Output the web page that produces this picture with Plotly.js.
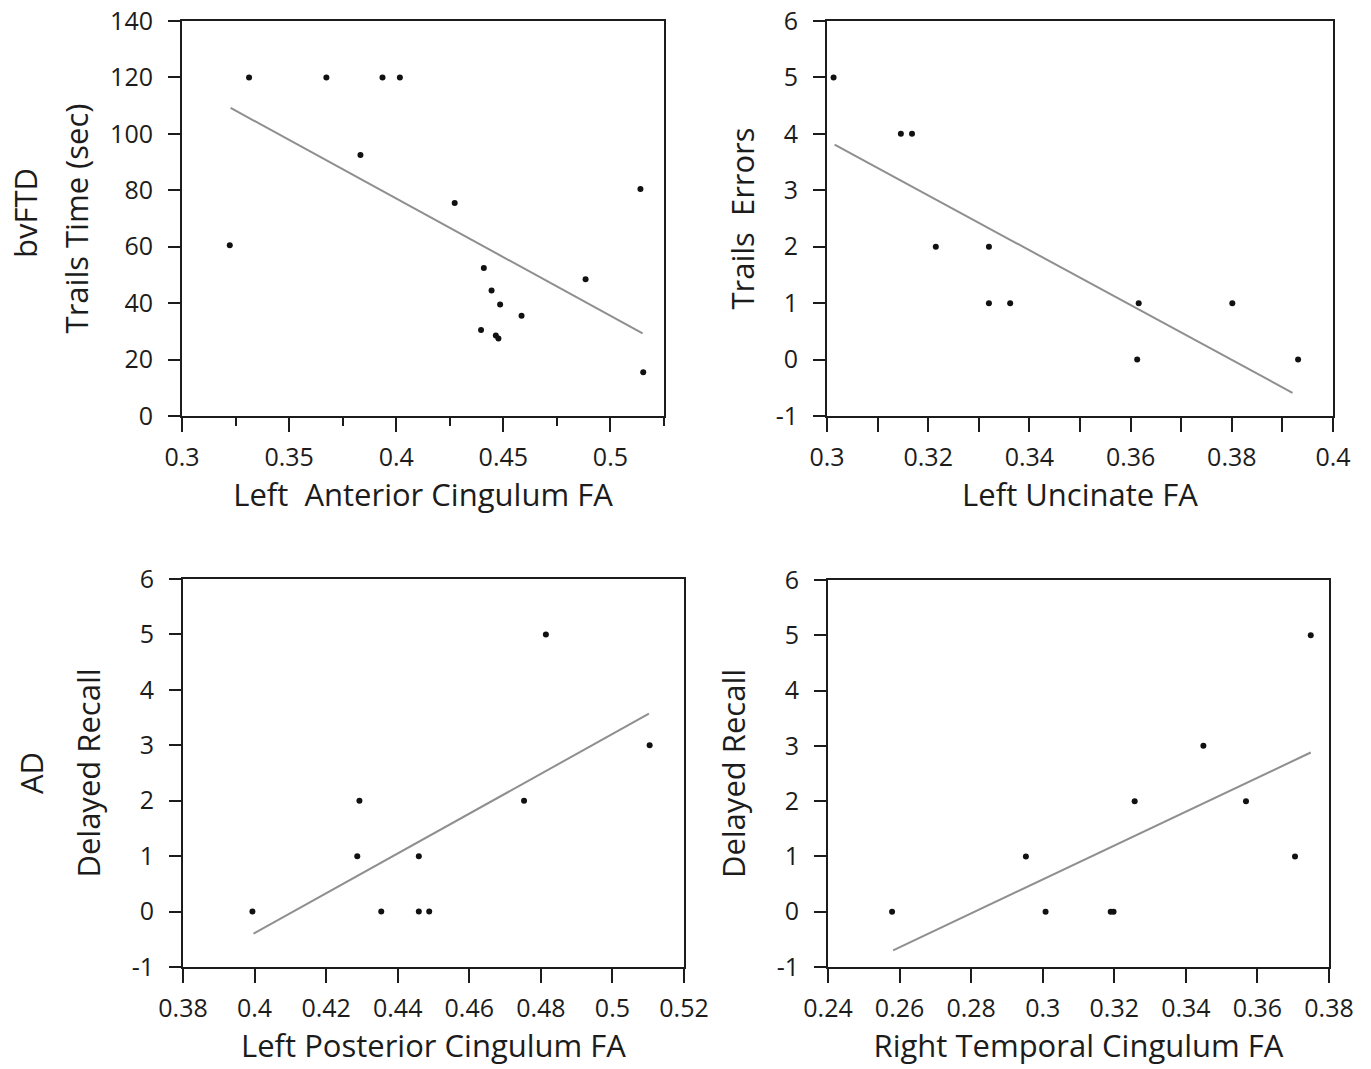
<!DOCTYPE html>
<html>
<head>
<meta charset="utf-8">
<script src="https://cdn.plot.ly/plotly-3.0.1.min.js"></script>
<style>
  html, body { margin: 0; padding: 0; background: #fff; }
  #chart { width: 1371px; height: 1069px; }
</style>
</head>
<body>
<div id="chart"></div>
<script>
// ---- Panel A: bvFTD, Left Anterior Cingulum FA vs Trails Time (sec)
const antCingFA = [0.3313, 0.3674, 0.3936, 0.4017, 0.3833, 0.3223, 0.4273, 0.5140, 0.4409, 0.4884, 0.4445, 0.4485, 0.4585, 0.4396, 0.4465, 0.4477, 0.5153];
const trailsTime = [120, 120, 120, 120, 92.5, 60.5, 75.5, 80.5, 52.5, 48.5, 44.5, 39.5, 35.5, 30.5, 28.5, 27.5, 15.5];
const antCingFitX = [0.3227, 0.5150];
const antCingFitY = [109.2, 29.3];

// ---- Panel B: bvFTD, Left Uncinate FA vs Trails Errors
const uncinateFA = [0.3013, 0.3146, 0.3168, 0.3215, 0.3320, 0.3320, 0.3362, 0.3616, 0.3613, 0.3801, 0.3931];
const trailsErrors = [5, 4, 4, 2, 2, 1, 1, 1, 0, 1, 0];
const uncinateFitX = [0.3015, 0.3920];
const uncinateFitY = [3.81, -0.59];

// ---- Panel C: AD, Left Posterior Cingulum FA vs Delayed Recall
const postCingFA = [0.3994, 0.4293, 0.4287, 0.4354, 0.4459, 0.4459, 0.4488, 0.4753, 0.4814, 0.5104];
const recallPost = [0, 2, 1, 0, 1, 0, 0, 2, 5, 3];
const postCingFitX = [0.3997, 0.5102];
const postCingFitY = [-0.40, 3.57];

// ---- Panel D: AD, Right Temporal Cingulum FA vs Delayed Recall
const tempCingFA = [0.2579, 0.2953, 0.3008, 0.3190, 0.3198, 0.3257, 0.3449, 0.3568, 0.3705, 0.3749];
const recallTemp = [0, 1, 0, 0, 0, 2, 3, 2, 1, 5];
const tempCingFitX = [0.2582, 0.3749];
const tempCingFitY = [-0.70, 2.88];

// ---- Axis tick labels
const timeTicks = [0, 20, 40, 60, 80, 100, 120, 140];
const countTicks = [-1, 0, 1, 2, 3, 4, 5, 6];
const countTickText = ['-1', '0', '1', '2', '3', '4', '5', '6'];

// ---- Titles
const groupLabels = ['bvFTD', 'AD'];
const xTitles = ['Left  Anterior Cingulum FA', 'Left Uncinate FA', 'Left Posterior Cingulum FA', 'Right Temporal Cingulum FA'];
const yTitles = ['Trails Time (sec)', 'Trails  Errors', 'Delayed Recall', 'Delayed Recall'];

const W = 1371, H = 1069;
const FONT = 'Open Sans, Noto Sans, sans-serif';
const INK = '#1c1c1c';
const TICKFONT = { family: FONT, size: 25, color: INK };
const TITLEFONT = { family: FONT, size: 31, color: INK };

function px2domX(a, b) { return [a / W, b / W]; }
function px2domY(top, bottom) { return [1 - bottom / H, 1 - top / H]; }

function xAxis(dom, range, dtick, title, anchor, minor) {
  const ax = {
    domain: dom, range: range, anchor: anchor,
    tickmode: 'linear', tick0: range[0], dtick: dtick,
    ticks: 'outside', ticklen: 14, tickwidth: 2, tickcolor: INK,
    showline: true, linewidth: 2, linecolor: INK, mirror: true,
    showgrid: false, zeroline: false,
    tickfont: TICKFONT, ticklabelstandoff: 4,
    title: { text: title, font: TITLEFONT, standoff: 12 },
    fixedrange: true
  };
  if (minor) ax.minor = minor;
  return ax;
}
function yAxis(dom, range, vals, text, title, anchor, standoff) {
  return {
    domain: dom, range: range, anchor: anchor,
    tickmode: 'array', tickvals: vals, ticktext: text,
    ticks: 'outside', ticklen: 12, tickwidth: 2, tickcolor: INK,
    showline: true, linewidth: 2, linecolor: INK, mirror: true,
    showgrid: false, zeroline: false,
    tickfont: TICKFONT, ticklabelstandoff: 10,
    title: { text: title, font: TITLEFONT, standoff: standoff },
    fixedrange: true
  };
}

function pts(x, y, xa, ya) {
  return { type: 'scatter', mode: 'markers', x: x, y: y, xaxis: xa, yaxis: ya,
           marker: { color: '#111', size: 6 }, showlegend: false, hoverinfo: 'x+y' };
}
function fit(x, y, xa, ya) {
  return { type: 'scatter', mode: 'lines', x: x, y: y, xaxis: xa, yaxis: ya,
           line: { color: '#8f8f8f', width: 2 }, showlegend: false, hoverinfo: 'skip' };
}

const data = [
  fit(antCingFitX, antCingFitY, 'x', 'y'),
  pts(antCingFA, trailsTime, 'x', 'y'),
  fit(uncinateFitX, uncinateFitY, 'x2', 'y2'),
  pts(uncinateFA, trailsErrors, 'x2', 'y2'),
  fit(postCingFitX, postCingFitY, 'x3', 'y3'),
  pts(postCingFA, recallPost, 'x3', 'y3'),
  fit(tempCingFitX, tempCingFitY, 'x4', 'y4'),
  pts(tempCingFA, recallTemp, 'x4', 'y4')
];

const layout = {
  width: W, height: H,
  margin: { l: 0, r: 0, t: 0, b: 0 },
  paper_bgcolor: '#fff', plot_bgcolor: '#fff',
  font: { family: FONT, color: INK },
  showlegend: false,
  xaxis: xAxis(px2domX(182, 664), [0.3, 0.525], 0.05, xTitles[0], 'y',
               { dtick: 0.025, tick0: 0.3, ticks: 'outside', ticklen: 8, tickwidth: 2, tickcolor: INK, showgrid: false }),
  yaxis: yAxis(px2domY(21, 416), [0, 140], timeTicks, timeTicks.map(String), yTitles[0], 'x', 12),
  xaxis2: xAxis(px2domX(827, 1333), [0.3, 0.4], 0.02, xTitles[1], 'y2',
               { dtick: 0.01, tick0: 0.3, ticks: 'outside', ticklen: 14, tickwidth: 2, tickcolor: INK, showgrid: false }),
  yaxis2: yAxis(px2domY(21, 416), [-1, 6], countTicks, countTickText, yTitles[1], 'x2', 12),
  xaxis3: xAxis(px2domX(183, 684), [0.38, 0.52], 0.02, xTitles[2], 'y3'),
  yaxis3: yAxis(px2domY(579, 967), [-1, 6], countTicks, countTickText, yTitles[2], 'x3', 22),
  xaxis4: xAxis(px2domX(828, 1329), [0.24, 0.38], 0.02, xTitles[3], 'y4'),
  yaxis4: yAxis(px2domY(580, 967), [-1, 6], countTicks, countTickText, yTitles[3], 'x4', 22),
  annotations: [
    { text: groupLabels[0], xref: 'paper', yref: 'paper', x: 25 / W, y: 1 - 213 / H,
      textangle: -90, showarrow: false, font: TITLEFONT, xanchor: 'center', yanchor: 'middle' },
    { text: groupLabels[1], xref: 'paper', yref: 'paper', x: 31 / W, y: 1 - 773 / H,
      textangle: -90, showarrow: false, font: TITLEFONT, xanchor: 'center', yanchor: 'middle' }
  ]
};

Plotly.newPlot('chart', data, layout, { staticPlot: true, displayModeBar: false });
</script>
</body>
</html>
